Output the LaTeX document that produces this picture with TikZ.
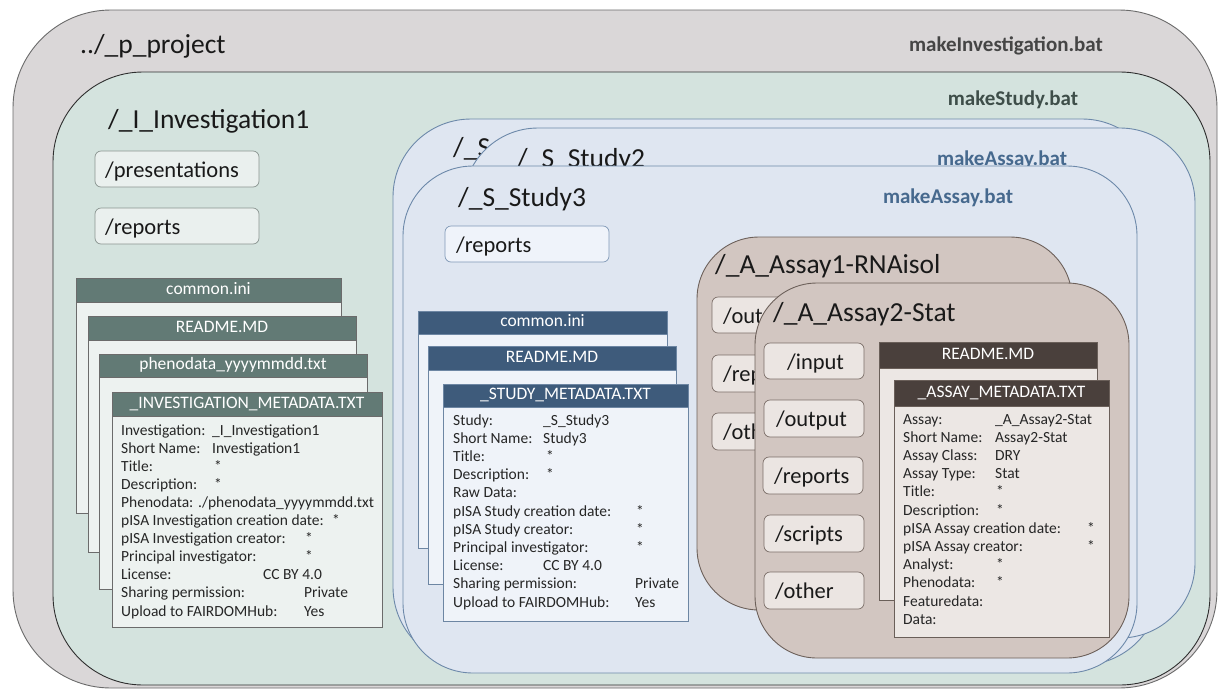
\documentclass[tikz,border=0pt]{standalone}
\usepackage{fontspec}
\setmainfont{Carlito}
\definecolor{projfill}{HTML}{DAD7D8}
\definecolor{projdraw}{HTML}{6B6B6B}
\definecolor{invfill}{HTML}{D4E3DE}
\definecolor{invdraw}{HTML}{2F2F2F}
\definecolor{studyfill}{HTML}{DFE6F1}
\definecolor{studydraw}{HTML}{6D89AA}
\definecolor{assayfill}{HTML}{D2C6C1}
\definecolor{assaydraw}{HTML}{6C605A}
\definecolor{invhead}{HTML}{627A75}
\definecolor{invbody}{HTML}{EDF2F0}
\definecolor{invdoc}{HTML}{6B6B6B}
\definecolor{studyhead}{HTML}{3E5B7B}
\definecolor{studybody}{HTML}{EFF3F9}
\definecolor{studydoc}{HTML}{6D86A3}
\definecolor{assayhead}{HTML}{4A403C}
\definecolor{assaybody}{HTML}{ECE7E4}
\definecolor{assaydoc}{HTML}{6A5F59}
\definecolor{invfoldfill}{HTML}{EAF0EE}
\definecolor{invfolddraw}{HTML}{8A9490}
\definecolor{stfoldfill}{HTML}{EFF3FA}
\definecolor{stfolddraw}{HTML}{7F98B6}
\definecolor{asfoldfill}{HTML}{EBE5E2}
\definecolor{asfolddraw}{HTML}{7A6D67}
\definecolor{batinv}{HTML}{454545}
\definecolor{batstudy}{HTML}{3E4E49}
\definecolor{batassay}{HTML}{46698E}
\begin{document}
\begin{tikzpicture}[x=1pt,y=-1pt,
 cont/.style={line width=0.9pt},
 ttl/.style={font=\fontsize{27.5}{30}\selectfont, anchor=base west, inner sep=0, text=black!90},
 bat/.style={font=\bfseries\fontsize{21}{24}\selectfont, anchor=base, inner sep=0},
 fold/.style={draw, line width=0.7pt, rounded corners=6pt, anchor=north west, minimum width=164pt, minimum height=36pt, inner sep=0, outer sep=0},
 foldt/.style={font=\fontsize{22.5}{26}\selectfont, anchor=base west, inner sep=0, text=black!90},
 dhead/.style={anchor=north west, inner sep=0, outer sep=0, text=white, font=\fontsize{17.5}{20}\selectfont, text height=11.5pt, text depth=3pt, draw, line width=0.7pt},
 meta/.style={font=\fontsize{15.5}{17}\selectfont, anchor=base west, inner sep=0, text=black!85},
 invdocbody/.style={fill=invbody, draw=invdoc, line width=0.7pt},
 stdocbody/.style={fill=studybody, draw=studydoc, line width=0.7pt},
 asdocbody/.style={fill=assaybody, draw=assaydoc, line width=0.7pt}]
\useasboundingbox (0,0) rectangle (1218,689);
\fill[white] (0,0) rectangle (1218,689);
% project
\filldraw[cont, fill=projfill, draw=projdraw, rounded corners=98pt] (13,10) rectangle (1217,688);
\node[ttl] (tproj) at (80,53) {../\_p\_project};
\node[bat, text=batinv] (binv) at (1006,51) {makeInvestigation.bat};
% investigation
\filldraw[cont, fill=invfill, draw=invdraw, rounded corners=90pt] (53,72) rectangle (1210,685);
\node[ttl] (tinv) at (108,128) {/\_I\_Investigation1};
\node[bat, text=batstudy] (bstudy) at (1013,105) {makeStudy.bat};
\node[fold, fill=invfoldfill, draw=invfolddraw] (ipres) at (95,151) {};
\node[foldt] (ipresT) at (105,177) {/presentations};
\node[fold, fill=invfoldfill, draw=invfolddraw] (irep) at (95,208) {};
\node[foldt] (irepT) at (105,234) {/reports};
% investigation docs
\draw[invdocbody] (76,278) rectangle (341,513);
\node[dhead, fill=invhead, draw=invdoc, minimum width=265pt, minimum height=24pt] (ic) at (76,278) {common.ini};
\draw[invdocbody] (88,316) rectangle (356,552);
\node[dhead, fill=invhead, draw=invdoc, minimum width=268pt, minimum height=24pt] (ir) at (88,316) {README.MD};
\draw[invdocbody] (99,354) rectangle (367,589);
\node[dhead, fill=invhead, draw=invdoc, minimum width=268pt, minimum height=23pt] (ip) at (99,354) {phenodata\_yyyymmdd.txt};
\draw[invdocbody] (112,392) rectangle (382,627);
\node[dhead, fill=invhead, draw=invdoc, minimum width=270pt, minimum height=24pt] (im) at (112,392) {\_INVESTIGATION\_METADATA.TXT};
\foreach \lab/\val/\vx [count=\k from 0] in {Investigation:/\_I\_Investigation1/212, Short Name:/Investigation1/212, Title:/*/214, Description:/*/214, Phenodata:/{./phenodata\_yyyymmdd.txt}/198, pISA Investigation creation date:/*/332, pISA Investigation creator:/*/305, Principal investigator:/*/305, License:/CC BY 4.0/263, Sharing permission:/Private/304, Upload to FAIRDOMHub:/Yes/304}
{ \node[meta] (il\k) at (121,435+18.1*\k) {\lab};
  \node[meta] (iv\k) at (\vx,435+18.1*\k) {\val}; }
% study 1
\filldraw[cont, fill=studyfill, draw=studydraw, rounded corners=78pt] (393,119) rectangle (1160,665);
\node[ttl] (ts1) at (453,156) {/\_S};
% study 2
\filldraw[cont, fill=studyfill, draw=studydraw, rounded corners=75pt] (463,128) rectangle (1195,638);
\node[ttl] (ts2) at (517,167) {/\_S\_Study2};
\node[bat, text=batassay] (ba2) at (1002,165) {makeAssay.bat};
% study 3
\filldraw[cont, fill=studyfill, draw=studydraw, rounded corners=70pt] (403,166) rectangle (1137,673);
\node[ttl] (ts3) at (458,206) {/\_S\_Study3};
\node[bat, text=batassay] (ba3) at (948,203) {makeAssay.bat};
\node[fold, fill=stfoldfill, draw=stfolddraw] (srep) at (445,226) {};
\node[foldt] (srepT) at (456,252) {/reports};
% study docs
\draw[stdocbody] (418,311) rectangle (667,548);
\node[dhead, fill=studyhead, draw=studydoc, minimum width=249pt, minimum height=23pt] (sc) at (418,311) {common.ini};
\draw[stdocbody] (428,346) rectangle (676,584);
\node[dhead, fill=studyhead, draw=studydoc, minimum width=248pt, minimum height=24pt] (sr) at (428,346) {README.MD};
\draw[stdocbody] (443,384) rectangle (688,621);
\node[dhead, fill=studyhead, draw=studydoc, minimum width=245pt, minimum height=23pt] (sm) at (443,384) {\_STUDY\_METADATA.TXT};
\foreach \lab/\val/\vx [count=\k from 0] in {Study:/\_S\_Study3/543, Short Name:/Study3/543, Title:/*/546, Description:/*/546, Raw Data://543, pISA Study creation date:/*/636, pISA Study creator:/*/636, Principal investigator:/*/636, License:/CC BY 4.0/543, Sharing permission:/Private/635, Upload to FAIRDOMHub:/Yes/635}
{ \node[meta] (sl\k) at (453,425+18.2*\k) {\lab};
  \node[meta] (sv\k) at (\vx,425+18.2*\k) {\val}; }
% assay 1
\filldraw[cont, fill=assayfill, draw=assaydraw, rounded corners=62pt] (697,237) rectangle (1072,610);
\node[ttl] (ta1) at (715,273) {/\_A\_Assay1-RNAisol};
\node[fold, fill=asfoldfill, draw=asfolddraw, minimum width=100pt] (a1out) at (712,297) {};
\node[foldt] (a1outT) at (723,323) {/out};
\node[fold, fill=asfoldfill, draw=asfolddraw, minimum width=100pt, minimum height=37pt] (a1rep) at (712,355) {};
\node[foldt] (a1repT) at (723,381) {/rep};
\node[fold, fill=asfoldfill, draw=asfolddraw, minimum width=100pt, minimum height=37pt] (a1oth) at (712,413) {};
\node[foldt] (a1othT) at (723,439) {/oth};
% assay 2
\filldraw[cont, fill=assayfill, draw=assaydraw, rounded corners=62pt] (755,283) rectangle (1129,658);
\node[ttl] (ta2) at (773,321) {/\_A\_Assay2-Stat};
\node[fold, fill=asfoldfill, draw=asfolddraw, minimum width=100pt] (a2in) at (764,343) {};
\node[foldt] (a2inT) at (787,369) {/input};
\node[fold, fill=asfoldfill, draw=asfolddraw, minimum width=100pt, minimum height=37pt] (a2out) at (764,400) {};
\node[foldt] (a2outT) at (776,426) {/output};
\node[fold, fill=asfoldfill, draw=asfolddraw, minimum width=100pt, minimum height=37pt] (a2rep) at (763,457) {};
\node[foldt] (a2repT) at (774,483) {/reports};
\node[fold, fill=asfoldfill, draw=asfolddraw, minimum width=100pt, minimum height=37pt] (a2scr) at (764,515) {};
\node[foldt] (a2scrT) at (775,541) {/scripts};
\node[fold, fill=asfoldfill, draw=asfolddraw, minimum width=100pt, minimum height=37pt] (a2oth) at (764,572) {};
\node[foldt] (a2othT) at (775,598) {/other};
% assay docs
\draw[asdocbody] (879,342) rectangle (1097,600);
\node[dhead, fill=assayhead, draw=assaydoc, minimum width=218pt, minimum height=26pt] (ar) at (879,342) {README.MD};
\draw[asdocbody] (894,380) rectangle (1109,637);
\node[dhead, fill=assayhead, draw=assaydoc, minimum width=215pt, minimum height=26pt] (am) at (894,380) {\_ASSAY\_METADATA.TXT};
\foreach \lab/\val/\vx [count=\k from 0] in {Assay:/\_A\_Assay2-Stat/995, Short Name:/Assay2-Stat/995, Assay Class:/DRY/995, Assay Type:/Stat/995, Title:/*/996, Description:/*/996, pISA Assay creation date:/*/1087, pISA Assay creator:/*/1087, Analyst:/*/996, Phenodata:/*/996, Featuredata://995, Data://995}
{ \node[meta] (al\k) at (903,424+18.2*\k) {\lab};
  \node[meta] (av\k) at (\vx,424+18.2*\k) {\val}; }
\end{tikzpicture}
\end{document}
